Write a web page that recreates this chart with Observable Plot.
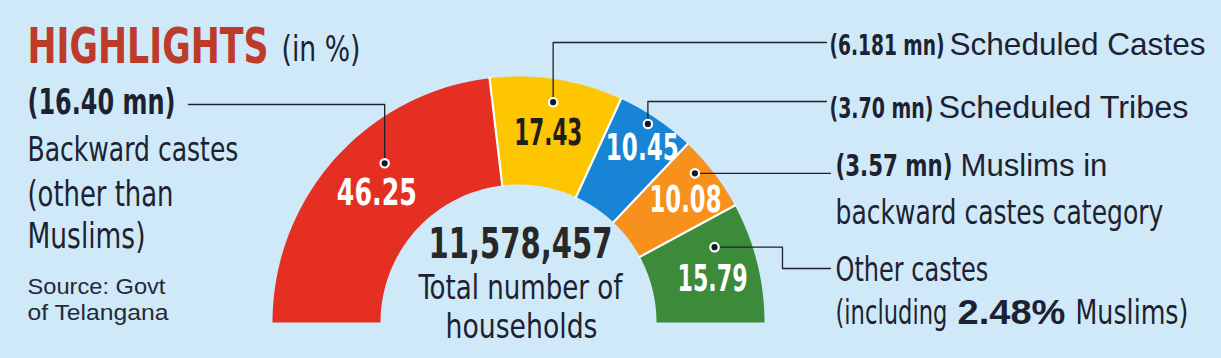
<!DOCTYPE html>
<html>
<head>
<meta charset="utf-8">
<script src="https://cdn.jsdelivr.net/npm/d3@7"></script>
<script src="https://cdn.jsdelivr.net/npm/@observablehq/plot@0.6"></script>
<style>
  html, body { margin: 0; padding: 0; background: #cfe9f9; }
  #chart svg { display: block; background: linear-gradient(to bottom, #cfe9f9 0, #cfe9f9 352px, #e3f2fb 352px); }
</style>
</head>
<body>
<div id="chart"></div>
<script>
// ---------------- DATA ----------------
const categories = [
  "Backward castes (other than Muslims)",
  "Scheduled Castes",
  "Scheduled Tribes",
  "Muslims in backward castes category",
  "Other castes"
];
const shares = [46.25, 17.43, 10.45, 10.08, 15.79];          // % of households
const millions = ["16.40 mn", "6.181 mn", "3.70 mn", "3.57 mn", null];
const totalHouseholds = 11578457;
const otherCastesMuslimShare = 2.48;

// ---------------- STYLE / LAYOUT ----------------
const W = 1221, H = 358;
const segColors = ["#e52f22", "#fdc600", "#1784d6", "#f8901e", "#3b8b3b"];
const valueColors = ["#ffffff", "#1e1e1e", "#ffffff", "#ffffff", "#ffffff"];
const dark = "#1d2231";
const ring = {cx: 518, cy: 322, outer: 246, inner: 138};
// label / dot positions inside each slice: fraction along slice, radius
const valuePos = [[0.51, 192], [0.5, 192], [0.57, 214], [0.57, 207], [0.55, 199]];
const valueWidth = [80, 68, 73, 72, 70];
const dotPos = [[0.60, 208], [0.5, 223], [0.45, 237], [0.35, 231], [0.26, 210]];
const leaderSteps = [
  [{y: 104}, {x: 188}],
  [{y: 42}, {x: 826}],
  [{y: 101}, {x: 826}],
  [{x: 830}],
  [{x: 782}, {y: 268}, {x: 830}]
];

const NARROW = "'Liberation Sans Narrow', 'Arial Narrow', 'DejaVu Sans Condensed', sans-serif";
const REG = "'Liberation Sans', Arial, sans-serif";

// ---------------- GEOMETRY FROM DATA ----------------
const pt = (a, rho) => ({x: ring.cx + rho * Math.cos(a), y: ring.cy - rho * Math.sin(a)});
let acc = 0;
const total = d3.sum(shares);
const segs = shares.map((v, i) => {
  const a0 = Math.PI - (acc / total) * Math.PI;
  acc += v;
  const a1 = Math.PI - (acc / total) * Math.PI;
  return {i, cat: categories[i], share: v, a0, a1, color: segColors[i]};
});

const arcPoints = segs.flatMap(s => {
  const N = 60, pts = [];
  for (let k = 0; k <= N; k++) pts.push({...pt(s.a0 + (s.a1 - s.a0) * k / N, ring.outer), cat: s.cat, color: s.color});
  for (let k = N; k >= 0; k--) pts.push({...pt(s.a0 + (s.a1 - s.a0) * k / N, ring.inner), cat: s.cat, color: s.color});
  pts.push({...pts[0]});
  return pts;
});

const boundaries = segs.slice(1).map(s => {
  const p1 = pt(s.a0, ring.inner - 1), p2 = pt(s.a0, ring.outer + 1);
  return {x1: p1.x, y1: p1.y, x2: p2.x, y2: p2.y};
});

const valueLabels = segs.map((s, i) => {
  const a = s.a0 + (s.a1 - s.a0) * valuePos[i][0];
  return {...pt(a, valuePos[i][1]), text: s.share.toFixed(2), fill: valueColors[i], w: valueWidth[i]};
});

const dots = segs.map((s, i) => {
  const a = s.a0 + (s.a1 - s.a0) * dotPos[i][0];
  return {...pt(a, dotPos[i][1]), cat: s.cat};
});

const leaders = dots.flatMap((d, i) => {
  const pts = [{x: d.x, y: d.y, k: i}];
  let cur = {x: d.x, y: d.y};
  for (const st of leaderSteps[i]) {
    cur = {x: st.x ?? cur.x, y: st.y ?? cur.y};
    pts.push({...cur, k: i});
  }
  return pts;
});

// ---------------- TEXT ----------------
const fmt = d3.format(",");
const boldNarrow = [
  {text: "HIGHLIGHTS", x: 27, y: 62, size: 49, w: 241, fill: "#bd3b2a"},
  {text: `(${millions[0]})`, x: 27, y: 113, size: 36, w: 148, fill: dark},
  {text: `(${millions[1]})`, x: 829, y: 54, size: 29, w: 115, fill: dark},
  {text: `(${millions[2]})`, x: 829, y: 117, size: 29, w: 104, fill: dark},
  {text: `(${millions[3]})`, x: 835, y: 175, size: 30, w: 117, fill: dark}
];
const boldNarrowMiddle = [
  {text: fmt(totalHouseholds), x: 520, y: 257, size: 43, w: 184, fill: "#282828"}
];
const boldReg = [
  {text: `${otherCastesMuslimShare.toFixed(2)}%`, x: 957, y: 323, size: 35, w: 108, fill: dark}
];
const regNarrow = [
  {text: "(in %)", x: 281, y: 60, size: 36, w: 79},
  {text: "Backward castes", x: 27, y: 160, size: 34, w: 211},
  {text: "(other than", x: 27, y: 205, size: 36, w: 146},
  {text: "Muslims)", x: 27, y: 247, size: 36, w: 118},
  {text: "backward castes category", x: 835, y: 223, size: 34.5, w: 328},
  {text: "Other castes", x: 835, y: 280, size: 34, w: 153},
  {text: "(including", x: 835, y: 323, size: 33, w: 112},
  {text: "Muslims)", x: 1075, y: 323, size: 34, w: 113}
];
const regWide = [
  {text: "Scheduled Castes", x: 949, y: 54, size: 31.5, w: 256},
  {text: "Scheduled Tribes", x: 938, y: 117, size: 31.5, w: 250},
  {text: "Muslims in", x: 960, y: 175, size: 31, w: 147}
];
const regNarrowMiddle = [
  {text: "Total number of", x: 520, y: 298, size: 34, w: 204},
  {text: "households", x: 521, y: 337, size: 34, w: 152}
];
const sourceText = [
  {text: "Source: Govt", x: 27, y: 293, size: 22, w: 138},
  {text: "of Telangana", x: 27, y: 319, size: 22, w: 141}
];

const textOpts = (extra) => ({x: "x", y: "y", text: "text", fontSize: "size", lineAnchor: "bottom", ...extra});

const svg = Plot.plot({
  width: W,
  height: H,
  margin: 0,
  style: {background: "transparent", overflow: "visible"},
  x: {domain: [0, W], range: [0, W], axis: null},
  y: {domain: [0, H], range: [0, H], axis: null},
  color: {type: "identity"},
  marks: [
    Plot.line(arcPoints, {x: "x", y: "y", z: "cat", fill: "color", stroke: "none", curve: "linear"}),
    Plot.link(boundaries, {x1: "x1", y1: "y1", x2: "x2", y2: "y2", stroke: "#ffffff", strokeWidth: 2.2}),
    Plot.line(leaders, {x: "x", y: "y", z: "k", stroke: dark, strokeWidth: 1.3, curve: "linear"}),
    Plot.dot(dots, {x: "x", y: "y", r: 4.2, fill: "#14162a", stroke: "#ffffff", strokeWidth: 2.2}),
    Plot.text(valueLabels, {x: "x", y: "y", text: "text", fill: "fill", fontSize: 38, fontWeight: 700, fontFamily: NARROW, textAnchor: "middle", lineAnchor: "middle"}),
    Plot.text(boldNarrow, textOpts({fill: "fill", fontWeight: 700, fontFamily: NARROW, textAnchor: "start"})),
    Plot.text(boldNarrowMiddle, textOpts({fill: "fill", fontWeight: 700, fontFamily: NARROW, textAnchor: "middle"})),
    Plot.text(boldReg, textOpts({fill: "fill", fontWeight: 700, fontFamily: REG, textAnchor: "start"})),
    Plot.text(regNarrow, textOpts({fill: dark, fontWeight: 400, fontFamily: NARROW, textAnchor: "start"})),
    Plot.text(regWide, textOpts({fill: dark, fontWeight: 400, fontFamily: REG, textAnchor: "start"})),
    Plot.text(regNarrowMiddle, textOpts({fill: dark, fontWeight: 400, fontFamily: NARROW, textAnchor: "middle"})),
    Plot.text(sourceText, textOpts({fill: "#262a36", fontWeight: 400, fontFamily: REG, textAnchor: "start"}))
  ]
});

document.getElementById("chart").appendChild(svg);

// Fit each text run to the width measured on the reference: shrink/grow the font so the
// natural width matches, then restore the glyph height with a vertical scale.
const queue = new Map();
for (const p of [...valueLabels, ...boldNarrow, ...boldNarrowMiddle, ...boldReg, ...regNarrow, ...regWide, ...regNarrowMiddle, ...sourceText]) {
  if (!queue.has(p.text)) queue.set(p.text, []);
  queue.get(p.text).push(p);
}
d3.select(svg).selectAll("text").each(function() {
  const q = queue.get(this.textContent);
  if (!q || !q.length) return;
  const p = q.shift();
  const nat = this.getComputedTextLength();
  if (!nat) return;
  const r = p.w / nat;
  const fs = parseFloat(getComputedStyle(this).fontSize);
  this.style.fontSize = (fs * r) + "px";
  const k = 1 / r;
  const tr = this.getAttribute("transform");
  if (tr) {
    this.setAttribute("transform", `${tr} scale(1,${k})`);
  } else {
    const x = parseFloat(this.getAttribute("x")) || 0;
    const y = parseFloat(this.getAttribute("y")) || 0;
    this.removeAttribute("x");
    this.removeAttribute("y");
    this.setAttribute("transform", `translate(${x},${y}) scale(1,${k})`);
  }
});
</script>
</body>
</html>
